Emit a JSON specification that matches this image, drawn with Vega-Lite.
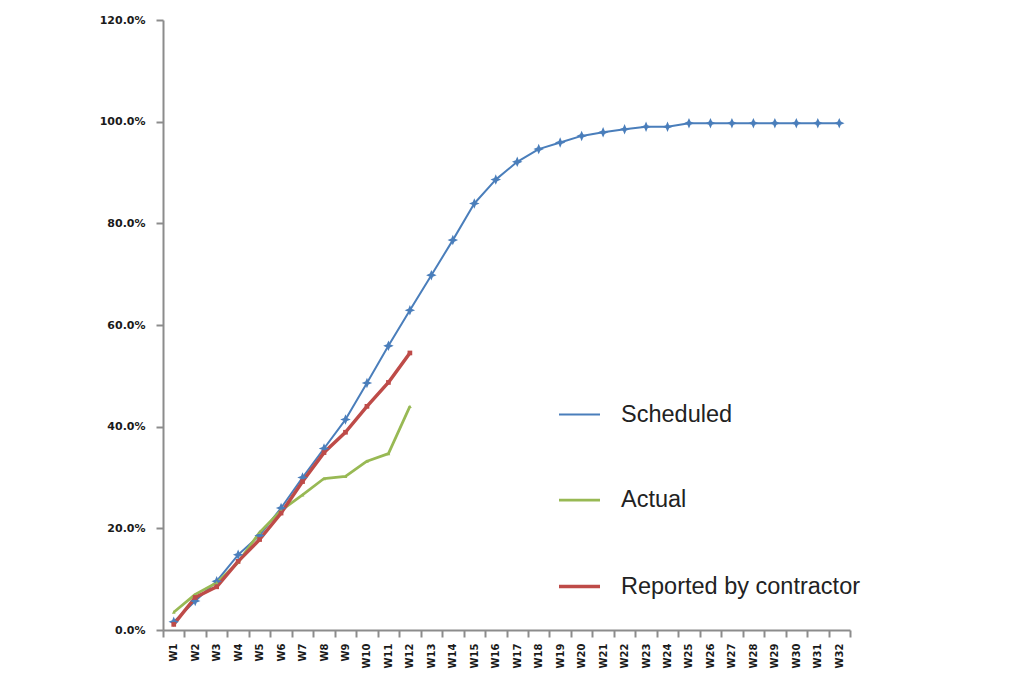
{
  "$schema": "https://vega.github.io/schema/vega-lite/v6.json",
  "width": 687,
  "height": 610,
  "autosize": {"type": "none"},
  "padding": {"left": 163, "top": 20, "right": 183, "bottom": 63},
  "background": "white",
  "config": {
    "view": {"stroke": null},
    "font": "DejaVu Sans"
  },
  "data": {
    "values": [
      {"week": "W1", "series": "Scheduled", "value": 0.016},
      {"week": "W2", "series": "Scheduled", "value": 0.057},
      {"week": "W3", "series": "Scheduled", "value": 0.096},
      {"week": "W4", "series": "Scheduled", "value": 0.148},
      {"week": "W5", "series": "Scheduled", "value": 0.186},
      {"week": "W6", "series": "Scheduled", "value": 0.240},
      {"week": "W7", "series": "Scheduled", "value": 0.300},
      {"week": "W8", "series": "Scheduled", "value": 0.357},
      {"week": "W9", "series": "Scheduled", "value": 0.414},
      {"week": "W10", "series": "Scheduled", "value": 0.486},
      {"week": "W11", "series": "Scheduled", "value": 0.559},
      {"week": "W12", "series": "Scheduled", "value": 0.629},
      {"week": "W13", "series": "Scheduled", "value": 0.698},
      {"week": "W14", "series": "Scheduled", "value": 0.767},
      {"week": "W15", "series": "Scheduled", "value": 0.839},
      {"week": "W16", "series": "Scheduled", "value": 0.886},
      {"week": "W17", "series": "Scheduled", "value": 0.921},
      {"week": "W18", "series": "Scheduled", "value": 0.946},
      {"week": "W19", "series": "Scheduled", "value": 0.959},
      {"week": "W20", "series": "Scheduled", "value": 0.972},
      {"week": "W21", "series": "Scheduled", "value": 0.979},
      {"week": "W22", "series": "Scheduled", "value": 0.985},
      {"week": "W23", "series": "Scheduled", "value": 0.990},
      {"week": "W24", "series": "Scheduled", "value": 0.990},
      {"week": "W25", "series": "Scheduled", "value": 0.997},
      {"week": "W26", "series": "Scheduled", "value": 0.997},
      {"week": "W27", "series": "Scheduled", "value": 0.997},
      {"week": "W28", "series": "Scheduled", "value": 0.997},
      {"week": "W29", "series": "Scheduled", "value": 0.997},
      {"week": "W30", "series": "Scheduled", "value": 0.997},
      {"week": "W31", "series": "Scheduled", "value": 0.997},
      {"week": "W32", "series": "Scheduled", "value": 0.997},
      {"week": "W1", "series": "Actual", "value": 0.035},
      {"week": "W2", "series": "Actual", "value": 0.070},
      {"week": "W3", "series": "Actual", "value": 0.093},
      {"week": "W4", "series": "Actual", "value": 0.133},
      {"week": "W5", "series": "Actual", "value": 0.192},
      {"week": "W6", "series": "Actual", "value": 0.235},
      {"week": "W7", "series": "Actual", "value": 0.266},
      {"week": "W8", "series": "Actual", "value": 0.298},
      {"week": "W9", "series": "Actual", "value": 0.302},
      {"week": "W10", "series": "Actual", "value": 0.332},
      {"week": "W11", "series": "Actual", "value": 0.347},
      {"week": "W12", "series": "Actual", "value": 0.440},
      {"week": "W1", "series": "Reported by contractor", "value": 0.011},
      {"week": "W2", "series": "Reported by contractor", "value": 0.064},
      {"week": "W3", "series": "Reported by contractor", "value": 0.085},
      {"week": "W4", "series": "Reported by contractor", "value": 0.135},
      {"week": "W5", "series": "Reported by contractor", "value": 0.178},
      {"week": "W6", "series": "Reported by contractor", "value": 0.230},
      {"week": "W7", "series": "Reported by contractor", "value": 0.292},
      {"week": "W8", "series": "Reported by contractor", "value": 0.349},
      {"week": "W9", "series": "Reported by contractor", "value": 0.389},
      {"week": "W10", "series": "Reported by contractor", "value": 0.440},
      {"week": "W11", "series": "Reported by contractor", "value": 0.487},
      {"week": "W12", "series": "Reported by contractor", "value": 0.545}
    ]
  },
  "encoding": {
    "x": {
      "field": "week",
      "type": "ordinal",
      "sort": null,
      "scale": {"type": "band", "paddingInner": 0, "paddingOuter": 0},
      "axis": {
        "title": null,
        "labelAngle": 270,
        "labelFont": "DejaVu Sans",
        "labelFontWeight": "bold",
        "labelFontSize": 10,
        "labelColor": "#1a1a1a",
        "labelPadding": 6,
        "tickBand": "extent",
        "tickSize": 7,
        "tickColor": "#8c8c8c",
        "tickWidth": 2,
        "domainColor": "#8c8c8c",
        "domainWidth": 2,
        "grid": false
      }
    },
    "y": {
      "field": "value",
      "type": "quantitative",
      "scale": {"domain": [0, 1.2], "nice": false},
      "axis": {
        "title": null,
        "values": [0, 0.2, 0.4, 0.6, 0.8, 1.0, 1.2],
        "format": ".1%",
        "labelFont": "DejaVu Sans",
        "labelFontWeight": "bold",
        "labelFontSize": 11,
        "labelColor": "#1a1a1a",
        "labelPadding": 11,
        "tickSize": 7,
        "tickColor": "#8c8c8c",
        "tickWidth": 2,
        "domainColor": "#8c8c8c",
        "domainWidth": 2,
        "grid": false
      }
    }
  },
  "layer": [
    {
      "mark": {"type": "line", "strokeJoin": "round"},
      "encoding": {
        "color": {
          "field": "series",
          "type": "nominal",
          "scale": {
            "domain": ["Scheduled", "Actual", "Reported by contractor"],
            "range": ["#4a7ebb", "#98b954", "#be4b48"]
          },
          "legend": {
            "title": null,
            "orient": "none",
            "legendX": 394,
            "legendY": 373,
            "padding": 0,
            "symbolType": "stroke",
            "symbolSize": 1681,
            "labelFont": "Liberation Sans",
            "labelFontSize": 23.5,
            "labelColor": "#222222",
            "labelOffset": 19,
            "rowPadding": 52,
            "labelLimit": 400
          }
        },
        "strokeWidth": {
          "field": "series",
          "type": "nominal",
          "scale": {
            "domain": ["Scheduled", "Actual", "Reported by contractor"],
            "range": [2, 3.5, 4]
          },
          "legend": null
        }
      }
    },
    {
      "transform": [{"filter": "datum.series === 'Scheduled'"}],
      "mark": {"type": "point", "filled": true, "opacity": 1, "color": "#4a7ebb", "size": 110, "shape": "M0,-1L0.3,-0.3L1,0L0.3,0.3L0,1L-0.3,0.3L-1,0L-0.3,-0.3Z"}
    },
    {
      "transform": [{"filter": "datum.series === 'Actual'"}],
      "mark": {"type": "point", "filled": true, "opacity": 1, "color": "#98b954", "size": 14, "shape": "triangle-up"}
    },
    {
      "transform": [{"filter": "datum.series === 'Reported by contractor'"}],
      "mark": {"type": "point", "filled": true, "opacity": 1, "color": "#be4b48", "size": 22, "shape": "square"}
    }
  ]
}
